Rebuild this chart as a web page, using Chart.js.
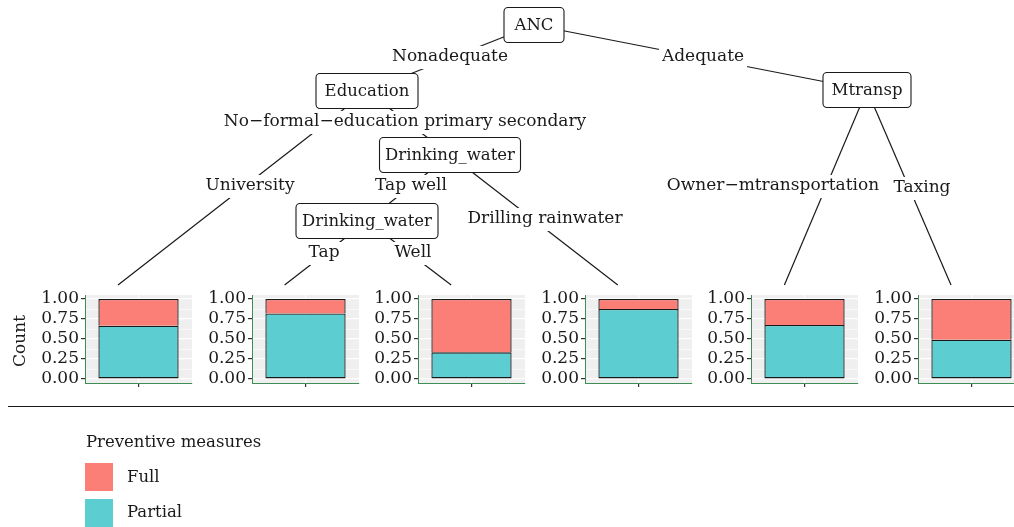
<!DOCTYPE html>
<html lang="en">
<head>
    <meta charset="UTF-8">
    <title>Preventive measures tree</title>
    <script src="https://cdn.jsdelivr.net/npm/chart.js"></script>
    <style>
        body {
            margin: 0;
            width: 1014px;
            height: 527px;
            position: relative;
            overflow: hidden;
            background: #fff;
            font-family: "DejaVu Serif", serif;
            color: #1a1a1a;
        }
        canvas { position: absolute; }
        #count-label {
            position: absolute;
            left: 19px;
            top: 341px;
            transform: translate(-50%, -50%) rotate(-90deg);
            font-size: 17px;
        }
        #separator {
            position: absolute;
            left: 8px;
            top: 406px;
            width: 1006px;
            border-top: 1.6px solid #1a1a1a;
        }
        .legend-text { position: absolute; font-size: 16.5px; line-height: 18px; }
        .swatch { position: absolute; width: 28px; height: 28px; }
    </style>
</head>
<body>

<canvas id="tree" width="1014" height="527" style="left:0;top:0"></canvas>
<div id="count-label">Count</div>
<div id="separator"></div>

<!-- legend -->
<div class="legend-text" style="left:86px;top:433px">Preventive measures</div>
<div class="swatch" id="sw-full" style="left:85px;top:463px"></div>
<div class="legend-text" style="left:127px;top:468px">Full</div>
<div class="swatch" id="sw-partial" style="left:85px;top:499px"></div>
<div class="legend-text" style="left:127px;top:503px">Partial</div>

<script>
    // data
    const leafNames = ['University', 'Tap', 'Well', 'Drilling rainwater', 'Owner−mtransportation', 'Taxing'];
    const partialShare = [0.667, 0.82, 0.333, 0.875, 0.675, 0.49];
    const fullShare = [0.333, 0.18, 0.667, 0.125, 0.325, 0.51];
    const yTicks = [0, 0.125, 0.25, 0.375, 0.5, 0.625, 0.75, 0.875, 1];
    const seriesNames = ['Partial', 'Full'];
    const colors = { Full: '#FC7F77', Partial: '#5CCED1' };

    Chart.defaults.font.family = '"DejaVu Serif", serif';
    Chart.defaults.color = '#1a1a1a';
    Chart.defaults.animation = false;

    document.getElementById('sw-full').style.background = colors.Full;
    document.getElementById('sw-partial').style.background = colors.Partial;

    // panel layout
    const PANEL_X0 = 85, PANEL_STEP = 166.6, PANEL_TOP = 290;
    const AXIS_W = 48, PLOT_W = 107;

    // tree layout (page units)
    const treeNodes = {
        anc: { label: 'ANC', x: 534, y: 25, w: 60 },
        education: { label: 'Education', x: 367, y: 91, w: 102 },
        mtransp: { label: 'Mtransp', x: 867, y: 90, w: 88 },
        water1: { label: 'Drinking_water', x: 450, y: 155, w: 141 },
        water2: { label: 'Drinking_water', x: 367, y: 221, w: 142 }
    };
    leafNames.forEach((n, i) => {
        treeNodes['leaf' + i] = { x: PANEL_X0 + i * PANEL_STEP + 33, y: 285 };
    });
    const treeEdges = [
        { from: 'anc', to: 'education', label: 'Nonadequate', lx: 450, ly: 57 },
        { from: 'anc', to: 'mtransp', label: 'Adequate', lx: 703, ly: 57 },
        { from: 'education', to: 'leaf0', label: 'University', lx: 250, ly: 186 },
        { from: 'education', to: 'water1', label: 'No−formal−education primary secondary', lx: 405, ly: 122 },
        { from: 'water1', to: 'water2', label: 'Tap well', lx: 411, ly: 186 },
        { from: 'water1', to: 'leaf3', label: 'Drilling rainwater', lx: 545, ly: 219 },
        { from: 'water2', to: 'leaf1', label: 'Tap', lx: 324, ly: 253 },
        { from: 'water2', to: 'leaf2', label: 'Well', lx: 413, ly: 253 },
        { from: 'mtransp', to: 'leaf4', label: 'Owner−mtransportation', lx: 773, ly: 186 },
        { from: 'mtransp', to: 'leaf5', label: 'Taxing', lx: 922, ly: 188 }
    ];

    // labels and boxes over the edge lines
    const treeLabels = {
        id: 'treeLabels',
        afterDatasetsDraw(chart) {
            const ctx = chart.ctx;
            const xs = chart.scales.x, ys = chart.scales.y;
            ctx.save();
            ctx.font = '17px "DejaVu Serif", serif';
            ctx.textAlign = 'center';
            ctx.textBaseline = 'middle';
            treeEdges.forEach(e => {
                const px = xs.getPixelForValue(e.lx), py = ys.getPixelForValue(e.ly);
                const w = ctx.measureText(e.label).width + 6;
                ctx.fillStyle = '#fff';
                ctx.fillRect(px - w / 2, py - 11, w, 23);
                ctx.fillStyle = '#1a1a1a';
                ctx.fillText(e.label, px, py);
            });
            ctx.font = '16.5px "DejaVu Serif", serif';
            Object.values(treeNodes).forEach(n => {
                if (!n.label) return;
                const px = xs.getPixelForValue(n.x), py = ys.getPixelForValue(n.y);
                ctx.beginPath();
                ctx.roundRect(px - n.w / 2, py - 17.5, n.w, 35, 4);
                ctx.fillStyle = '#fff';
                ctx.fill();
                ctx.lineWidth = 1.1;
                ctx.strokeStyle = '#1a1a1a';
                ctx.stroke();
                ctx.fillStyle = '#1a1a1a';
                ctx.fillText(n.label, px, py + 1);
            });
            ctx.restore();
        }
    };

    new Chart(document.getElementById('tree'), {
        type: 'scatter',
        data: {
            datasets: treeEdges.map(e => ({
                data: [
                    { x: treeNodes[e.from].x, y: treeNodes[e.from].y },
                    { x: treeNodes[e.to].x, y: treeNodes[e.to].y }
                ],
                showLine: true,
                borderColor: '#1a1a1a',
                borderWidth: 1.2,
                pointRadius: 0
            }))
        },
        options: {
            responsive: false,
            layout: { padding: 0 },
            plugins: { legend: { display: false }, tooltip: { enabled: false } },
            scales: {
                x: { type: 'linear', min: 0, max: 1014, display: false },
                y: { type: 'linear', min: 0, max: 527, reverse: true, display: false }
            }
        },
        plugins: [treeLabels]
    });

    // gray panel background
    const panelBg = {
        id: 'panelBg',
        beforeDraw(chart) {
            const a = chart.chartArea;
            chart.ctx.save();
            chart.ctx.fillStyle = '#EFEFEF';
            chart.ctx.fillRect(a.left, a.top, a.right - a.left, a.bottom - a.top);
            chart.ctx.restore();
        }
    };

    const noPad = s => { s.paddingTop = 0; s.paddingBottom = 0; s.paddingLeft = 0; s.paddingRight = 0; };
    const isMajor = v => Math.abs(v * 4 - Math.round(v * 4)) < 1e-6;

    // one small stacked bar chart per leaf
    leafNames.forEach((name, i) => {
        const canvas = document.createElement('canvas');
        canvas.width = AXIS_W + PLOT_W + 1;
        canvas.height = 100;
        canvas.style.left = (PANEL_X0 + i * PANEL_STEP - AXIS_W) + 'px';
        canvas.style.top = PANEL_TOP + 'px';
        document.body.appendChild(canvas);

        const shares = { Partial: partialShare[i], Full: fullShare[i] };
        new Chart(canvas, {
            type: 'bar',
            data: {
                labels: [''],
                datasets: seriesNames.map(s => ({
                    label: s,
                    data: [shares[s]],
                    backgroundColor: colors[s],
                    borderColor: '#1a1a1a',
                    // the upper segment leans on the lower one's top edge
                    borderWidth: s === 'Full' ? { top: 1.3, left: 1.3, right: 1.3, bottom: 0 } : 1.3,
                    borderSkipped: false,
                    barPercentage: 0.75,
                    categoryPercentage: 1
                }))
            },
            options: {
                responsive: false,
                layout: { padding: { top: 5, right: 1, left: 0, bottom: 0 } },
                plugins: { legend: { display: false }, tooltip: { enabled: false } },
                scales: {
                    x: {
                        stacked: true,
                        afterFit: s => { s.height = 7; noPad(s); },
                        ticks: { display: false },
                        grid: { offset: false, color: '#fff', lineWidth: 1.2, tickLength: 4, tickColor: '#333' },
                        border: { color: '#3E8E55', width: 1 }
                    },
                    y: {
                        stacked: true,
                        min: -0.05,
                        max: 1.05,
                        afterFit: s => { s.width = AXIS_W; noPad(s); },
                        afterBuildTicks: s => { s.ticks = yTicks.map(v => ({ value: v })); },
                        ticks: {
                            padding: 2,
                            font: { size: 17 },
                            color: '#1a1a1a',
                            autoSkip: false,
                            callback: v => isMajor(v) ? v.toFixed(2) : ''
                        },
                        grid: {
                            color: '#fff',
                            lineWidth: c => (c.tick && isMajor(c.tick.value)) ? 1.2 : 0.6,
                            tickLength: 4,
                            tickColor: c => (c.tick && isMajor(c.tick.value)) ? '#333' : 'rgba(0,0,0,0)'
                        },
                        border: { color: '#3E8E55', width: 1 }
                    }
                }
            },
            plugins: [panelBg]
        });
    });
</script>

</body>
</html>
